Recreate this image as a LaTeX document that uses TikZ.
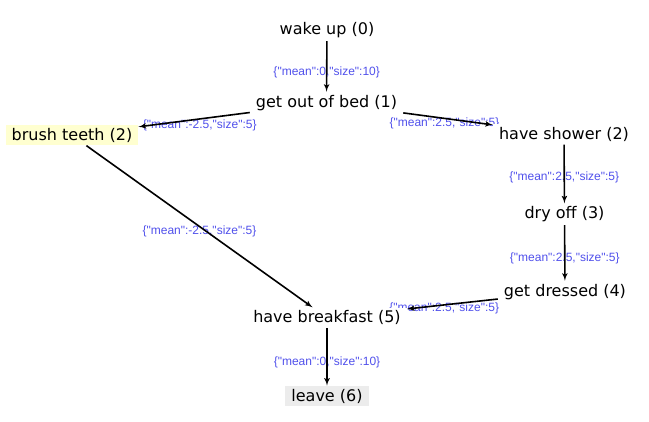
\documentclass[tikz,border=0pt]{standalone}
\usepackage{fontspec}
\setmainfont{DejaVu Sans}
\newfontfamily\labelfont{Liberation Sans}
\usetikzlibrary{arrows}

\definecolor{labelblue}{RGB}{80,80,235}
\definecolor{paleyellow}{RGB}{255,255,208}
\definecolor{palegray}{RGB}{236,236,236}
\pgfdeclarelayer{edges}
\pgfsetlayers{edges,main}

\begin{document}
\begin{tikzpicture}[x = 1pt, y = -1pt, > = latex', font = \fontsize{16}{19}\selectfont]
    \tikzset{
      task/.style = {fill = white, inner xsep = 6pt, inner ysep = 3pt},
      flow/.style = {->, line width = 1.6pt},
      weight/.style = {text = labelblue, inner sep = 0pt,
                       font = \labelfont\fontsize{12}{14}\selectfont},
    }
    \useasboundingbox (0, 0) rectangle (649, 422);

    \node [task] (wake) at (327, 30) {wake up (0)};
    \node [task] (getup) at (326.5, 102.7) {get out of bed (1)};
    \node [task, fill = paleyellow] (teeth) at (72, 135.3) {brush teeth (2)};
    \node [task] (shower) at (564, 134.3) {have shower (2)};
    \node [task] (dry) at (564.5, 214.3) {dry off (3)};
    \node [task] (dressed) at (565, 291.7) {get dressed (4)};
    \node [task] (breakfast) at (327, 317.7) {have breakfast (5)};
    \node [task, fill = palegray] (leave) at (327, 396) {leave (6)};

    \begin{pgfonlayer}{edges}
    % labels first, lines over them
    \path (wake) -- node[weight, pos = 0.61]{\{"mean":0,"size":10\}} (getup);
    \path (getup) -- node[weight, pos = 0.45, yshift = -6pt]{\{"mean":-2.5,"size":5\}} (teeth);
    \path (getup) -- node[weight, pos = 0.46, yshift = -4.6pt]{\{"mean":2.5,"size":5\}} (shower);
    \path (shower) -- node[weight, pos = 0.56]{\{"mean":2.5,"size":5\}} (dry);
    \path (dry) -- node[weight, pos = 0.6]{\{"mean":2.5,"size":5\}} (dressed);
    \path (dressed) -- node[weight, pos = 0.59, yshift = -3pt]{\{"mean":2.5,"size":5\}} (breakfast);
    \path (teeth) -- node[weight, pos = 0.5, yshift = -5pt]{\{"mean":-2.5,"size":5\}} (breakfast);
    \path (breakfast) -- node[weight, pos = 0.6]{\{"mean":0,"size":10\}} (leave);

    \draw [flow] (wake) -- (getup);
    \draw [flow] (getup) -- (teeth);
    \draw [flow] (getup) -- (shower);
    \draw [flow] (shower) -- (dry);
    \draw [flow] (dry) -- (dressed);
    \draw [flow] (dressed) -- (breakfast);
    \draw [flow] (teeth) -- (breakfast);
    \draw [flow] (breakfast) -- (leave);
    \end{pgfonlayer}
  \end{tikzpicture}
\end{document}
